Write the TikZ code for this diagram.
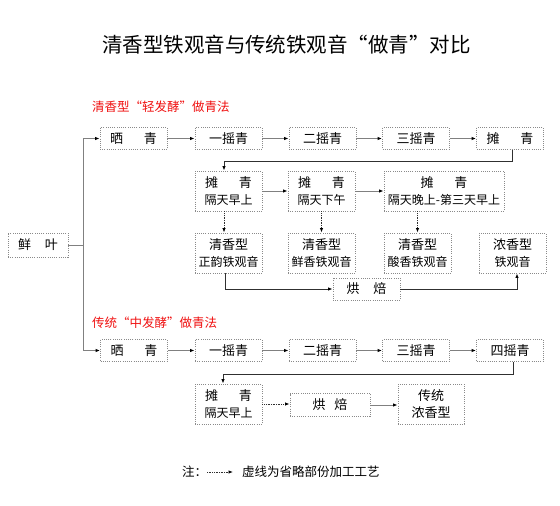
\documentclass[tikz,border=0pt]{standalone}
\usepackage{fontspec}
\setmainfont{Noto Sans CJK SC}
\usetikzlibrary{arrows.meta}
\definecolor{boxgray}{HTML}{8A8A8A}
\definecolor{lgray}{HTML}{808080}
\definecolor{dgray}{HTML}{303030}
\definecolor{redt}{HTML}{F01010}
\newcommand\fsz[2]{\fontsize{#1}{#2}\selectfont}
\tikzset{
  box/.style={draw=boxgray, dash pattern=on 0.9pt off 1.3pt, line width=0.9pt,
    minimum height=22pt, minimum width=67pt, inner sep=0pt, align=center, font=\fsz{13}{17}},
  tall/.style={box, minimum height=40pt},
  tip/.style={-{Latex[length=4.5pt,width=3.5pt,color=black]}},
  conn/.style={draw=lgray, line width=1pt, tip},
  plain/.style={draw=lgray, line width=1pt},
  dconn/.style={draw=dgray, line width=1pt, tip},
  dotconn/.style={draw=dgray, line width=0.8pt, dash pattern=on 0.8pt off 0.9pt, tip},
  redlab/.style={text=redt, font=\fsz{12.5}{15}, inner sep=0pt, anchor=west},
}
\begin{document}
\begin{tikzpicture}[x=1pt,y=-1pt]
\path[use as bounding box, fill=white] (0,0) rectangle (560,506);

\node[font=\fsz{20.5}{24}, inner sep=0pt] (title) at (286.5,45) {清香型铁观音与传统铁观音“做青”对比};

\node[redlab] (lab1) at (92,107) {清香型“轻发酵”做青法};
\node[redlab] (lab2) at (92,323) {传统“中发酵”做青法};

% fresh leaf
\node[box, minimum width=60pt, minimum height=24pt] (xian) at (38,245) {鲜\hspace{14pt}叶};

% row 1
\node[box] (s1) at (133.5,138.5) {晒\hspace{21pt}青};
\node[box] (y1) at (228.5,138.5) {一摇青};
\node[box] (e1) at (322.5,138.5) {二摇青};
\node[box] (t1) at (416,138.5) {三摇青};
\node[box] (p1) at (510,138.5) {摊\hspace{21pt}青};

% row 2
\node[tall] (a1) at (228.5,191) {摊\hspace{21pt}青\\{\fsz{12}{17}隔天早上}};
\node[tall] (a2) at (321.5,191) {摊\hspace{21pt}青\\{\fsz{12}{17}隔天下午}};
\node[tall, minimum width=120pt] (a3) at (444,191) {摊\hspace{21pt}青\\{\fsz{12}{17}隔天晚上-第三天早上}};

% row 3
\node[tall] (q1) at (228.5,253) {清香型\\{\fsz{12}{17}正韵铁观音}};
\node[tall] (q2) at (321.5,253) {清香型\\{\fsz{12}{17}鲜香铁观音}};
\node[tall] (q3) at (417.5,253) {清香型\\{\fsz{12}{17}酸香铁观音}};
\node[tall] (q4) at (512.5,253) {浓香型\\{\fsz{12}{17}铁观音}};
\node[box] (r) at (366.5,289) {烘\hspace{14pt}焙};

% row 4
\node[box] (s4) at (134,350.5) {晒\hspace{21pt}青};
\node[box] (y4) at (228.5,350.5) {一摇青};
\node[box] (e4) at (322.5,350.5) {二摇青};
\node[box] (t4) at (416,350.5) {三摇青};
\node[box] (f4) at (510,350.5) {四摇青};

% row 5
\node[tall] (a4) at (228.5,404) {摊\hspace{21pt}青\\{\fsz{12}{17}隔天早上}};
\node[box, minimum width=80pt, minimum height=23pt] (r4) at (330,405) {烘\hspace{9pt}焙};
\node[tall, minimum width=66pt] (c4) at (431,404) {传统\\浓香型};

% note
\node[font=\fsz{12.5}{15}, inner sep=0pt, anchor=west] (zhu) at (182,472) {注：};
\node[font=\fsz{12.5}{15}, inner sep=0pt, anchor=west] (zt) at (242,472) {虚线为省略部份加工工艺};
\draw[dotconn] ([xshift=-35pt]zt.west) -- ([xshift=-9pt]zt.west);

% connectors
\coordinate (j) at (83,245);
\draw[plain] (xian.east) -- (j);
\draw[conn] (j) |- (s1.west);
\draw[conn] (j) |- (s4.west);

\draw[conn] (s1) -- (y1);
\draw[conn] (y1) -- (e1);
\draw[conn] (e1) -- (t1);
\draw[conn] (t1) -- (p1);

\coordinate (k1) at (224,161);
\draw[dconn] ([xshift=2pt]p1.south) |- (k1) -- ([xshift=-4.5pt]a1.north);

\draw[conn] (a1) -- (a2);
\draw[conn] (a2) -- (a3);

\draw[dotconn] ([xshift=-4.5pt]a1.south) -- ([xshift=-4.5pt]q1.north);
\draw[dotconn] (a2.south) -- (q2.north);
\draw[dotconn] (q3.north |- a3.south) -- (q3.north);

\draw[dconn] ([xshift=-3.5pt]q1.south) |- (r.west);
\draw[dconn] (r.east) -| ([xshift=4.5pt]q4.south);

\draw[conn] (s4) -- (y4);
\draw[conn] (y4) -- (e4);
\draw[conn] (e4) -- (t4);
\draw[conn] (t4) -- (f4);

\coordinate (k2) at (223,374);
\draw[dconn] ([xshift=3pt]f4.south) |- (k2) -- ([xshift=-5.5pt]a4.north);

\draw[dotconn] (a4.east) -- (r4.west |- a4.east);
\draw[conn] (r4.east) -- (c4.west |- r4.east);
\end{tikzpicture}
\end{document}
